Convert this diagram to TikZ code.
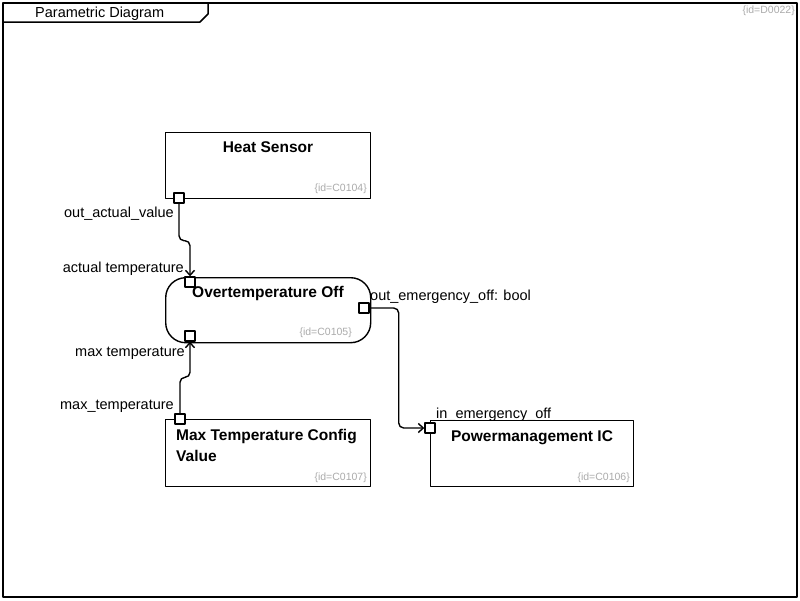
\documentclass[tikz,border=0pt]{standalone}
\usepackage{fontspec}
\setmainfont{Liberation Sans}
\usetikzlibrary{arrows.meta}

\begin{document}
\begin{tikzpicture}[x=1pt, y=-1pt, line join=round, line cap=round,
  >={Straight Barb[length=5pt,width=9pt]},
  block/.style={draw, line width=1.4pt, fill=white, minimum width=205pt, minimum height=66pt, anchor=north west, inner sep=0pt},
  port/.style={draw, line width=1.4pt, fill=white, minimum size=10pt, inner sep=0pt},
  conn/.style={draw, line width=1.4pt, ->, rounded corners=5pt},
  title/.style={font=\fontsize{15.5}{21}\selectfont\bfseries, inner sep=0pt},
  lbl/.style={font=\fontsize{14.5}{16}\selectfont, inner sep=0pt},
  idtag/.style={font=\fontsize{10.5}{12}\selectfont, text=black!33, inner sep=0pt, anchor=base east}]
\useasboundingbox (0,0) rectangle (800,600);
% --- Khung ---
\draw[line width=1.5pt] (3,3) rectangle (797,597);
\draw[line width=1.5pt] (3,22) -- (200,22) -- (208,14) -- (208,3);
\node[lbl, anchor=base west] (frametitle) at (35,17) {Parametric Diagram};
\node[idtag] (frameid) at (795,13) {\{id=D0022\}};

% --- Khoi ---
\node[block] (hs) at (165,132) {};
\node[block, rounded corners=20pt, minimum height=65pt] (ot) at (165,277) {};
\node[block, minimum width=203pt] (pm) at (430,420) {};
\node[block, minimum height=67pt] (mt) at (165,419) {};

\node[title, anchor=base] (hstitle) at (268,152) {Heat Sensor};
\node[title, anchor=base] (ottitle) at (268,297) {Overtemperature Off};
\node[title, anchor=base] (pmtitle) at (532,441) {Powermanagement IC};
\node[title, anchor=base west, align=left] (mttitle) at (176,461) {Max Temperature Config\\Value};

\node[idtag] (hsid) at (367,191) {\{id=C0104\}};
\node[idtag] (otid) at (352,335) {\{id=C0105\}};
\node[idtag] (pmid) at (630,480) {\{id=C0106\}};
\node[idtag] (mtid) at (367,480) {\{id=C0107\}};

% --- Cong ---
\node[port] (hsout) at (179,198) {};
\node[port] (otin) at (190,282) {};
\node[port] (otmax) at (190,336) {};
\node[port] (oteo) at (364,308) {};
\node[port] (pmin) at (430,428) {};
\node[port] (mtout) at (180,419) {};

\node[lbl, anchor=base east] (hsoutlbl) at (174,217) {out\_actual\_value};
\node[lbl, anchor=base east] (otinlbl) at (184,272) {actual temperature};
\node[lbl, anchor=base east] (otmaxlbl) at (185,356) {max temperature};
\node[lbl, anchor=base east] (mtoutlbl) at (174,409) {max\_temperature};
\node[lbl, anchor=base west] (oteolbl) at (370,300) {out\_emergency\_off: bool};
\node[lbl, anchor=base west] (pminlbl) at (436,418) {in\_emergency\_off};

% --- Duong noi ---
\draw[conn] (hsout.south) -- ++(0,37) -| (otin.north);
\draw[conn] (mtout.north) -- ++(0,-36) -| (otmax.south);
\draw[conn] (oteo.east) -- ++(29,0) |- (pmin.west);
\end{tikzpicture}
\end{document}
